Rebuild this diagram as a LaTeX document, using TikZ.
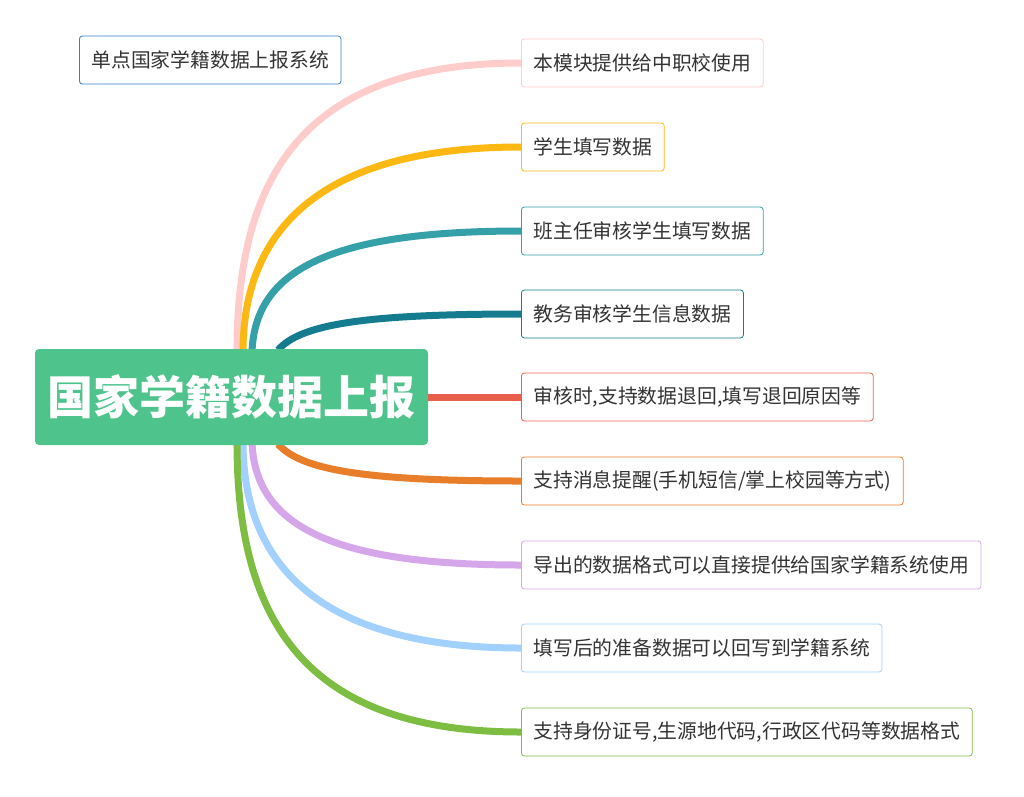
\documentclass[tikz,border=0pt]{standalone}
\usepackage{fontspec}
\setmainfont{Noto Sans CJK SC}
\begin{document}
\begin{tikzpicture}[x=1pt,y=-1pt,
 box/.style={draw=#1,line width=0.8pt,rounded corners=3pt,anchor=west,minimum height=48pt,inner xsep=12pt,text=black!80,font=\fontsize{19.8}{22}\selectfont},
 br/.style={line width=7pt,draw=#1}]
\useasboundingbox (0,0) rectangle (1024,796);
\definecolor{cpink}{HTML}{FFCCCC}\definecolor{cyel}{HTML}{FDB813}
\definecolor{cteal}{HTML}{36A0A8}\definecolor{cdteal}{HTML}{157C90}
\definecolor{cred}{HTML}{E8604C}\definecolor{corg}{HTML}{E87D2A}
\definecolor{cpur}{HTML}{D6A6EA}\definecolor{clb}{HTML}{A2D0FF}
\definecolor{cgr}{HTML}{7DBD42}\definecolor{cmain}{HTML}{4EC48C}
\definecolor{cblue}{HTML}{3A7CC0}
\node[box=cblue,anchor=west] (t) at (79,60) {单点国家学籍数据上报系统};
\coordinate (s1) at (237,352);\coordinate (s2) at (243,352);\coordinate (s3) at (252,352);\coordinate (s4) at (278,350);
\coordinate (s6) at (278,444);\coordinate (s7) at (252,442);\coordinate (s8) at (243,442);\coordinate (s9) at (237,442);
\node[box=cpink] (b1) at (521,63) {本模块提供给中职校使用};
\node[box=cyel] (b2) at (521,147) {学生填写数据};
\node[box=cteal] (b3) at (521,231) {班主任审核学生填写数据};
\node[box=cdteal] (b4) at (521,314) {教务审核学生信息数据};
\node[box=cred] (b5) at (521,397) {审核时,支持数据退回,填写退回原因等};
\node[box=corg] (b6) at (521,481) {支持消息提醒(手机短信/掌上校园等方式)};
\node[box=cpur] (b7) at (521,565) {导出的数据格式可以直接提供给国家学籍系统使用};
\node[box=clb] (b8) at (521,648) {填写后的准备数据可以回写到学籍系统};
\node[box=cgr] (b9) at (521,732) {支持身份证号,生源地代码,行政区代码等数据格式};
\draw[br=cpink] (s1) .. controls (237,180) and (300,63) .. (b1.west);
\draw[br=cyel] (s2) .. controls (243,230) and (320,147) .. (b2.west);
\draw[br=cteal] (s3) .. controls (255,270) and (330,231) .. (b3.west);
\draw[br=cdteal] (s4) .. controls (300,325) and (360,314) .. (b4.west);
\draw[br=corg] (s6) .. controls (300,469) and (360,481) .. (b6.west);
\draw[br=cpur] (s7) .. controls (255,525) and (330,565) .. (b7.west);
\draw[br=clb] (s8) .. controls (243,565) and (320,648) .. (b8.west);
\draw[br=cgr] (s9) .. controls (237,615) and (300,732) .. (b9.west);
\node[fill=cmain,rounded corners=4pt,minimum width=393pt,minimum height=96pt,text=white,font=\fontsize{46}{50}\selectfont\bfseries] (m) at (231.5,397) {国家学籍数据上报};
\draw[br=cred] (m.east) -- (b5.west);
\end{tikzpicture}
\end{document}
